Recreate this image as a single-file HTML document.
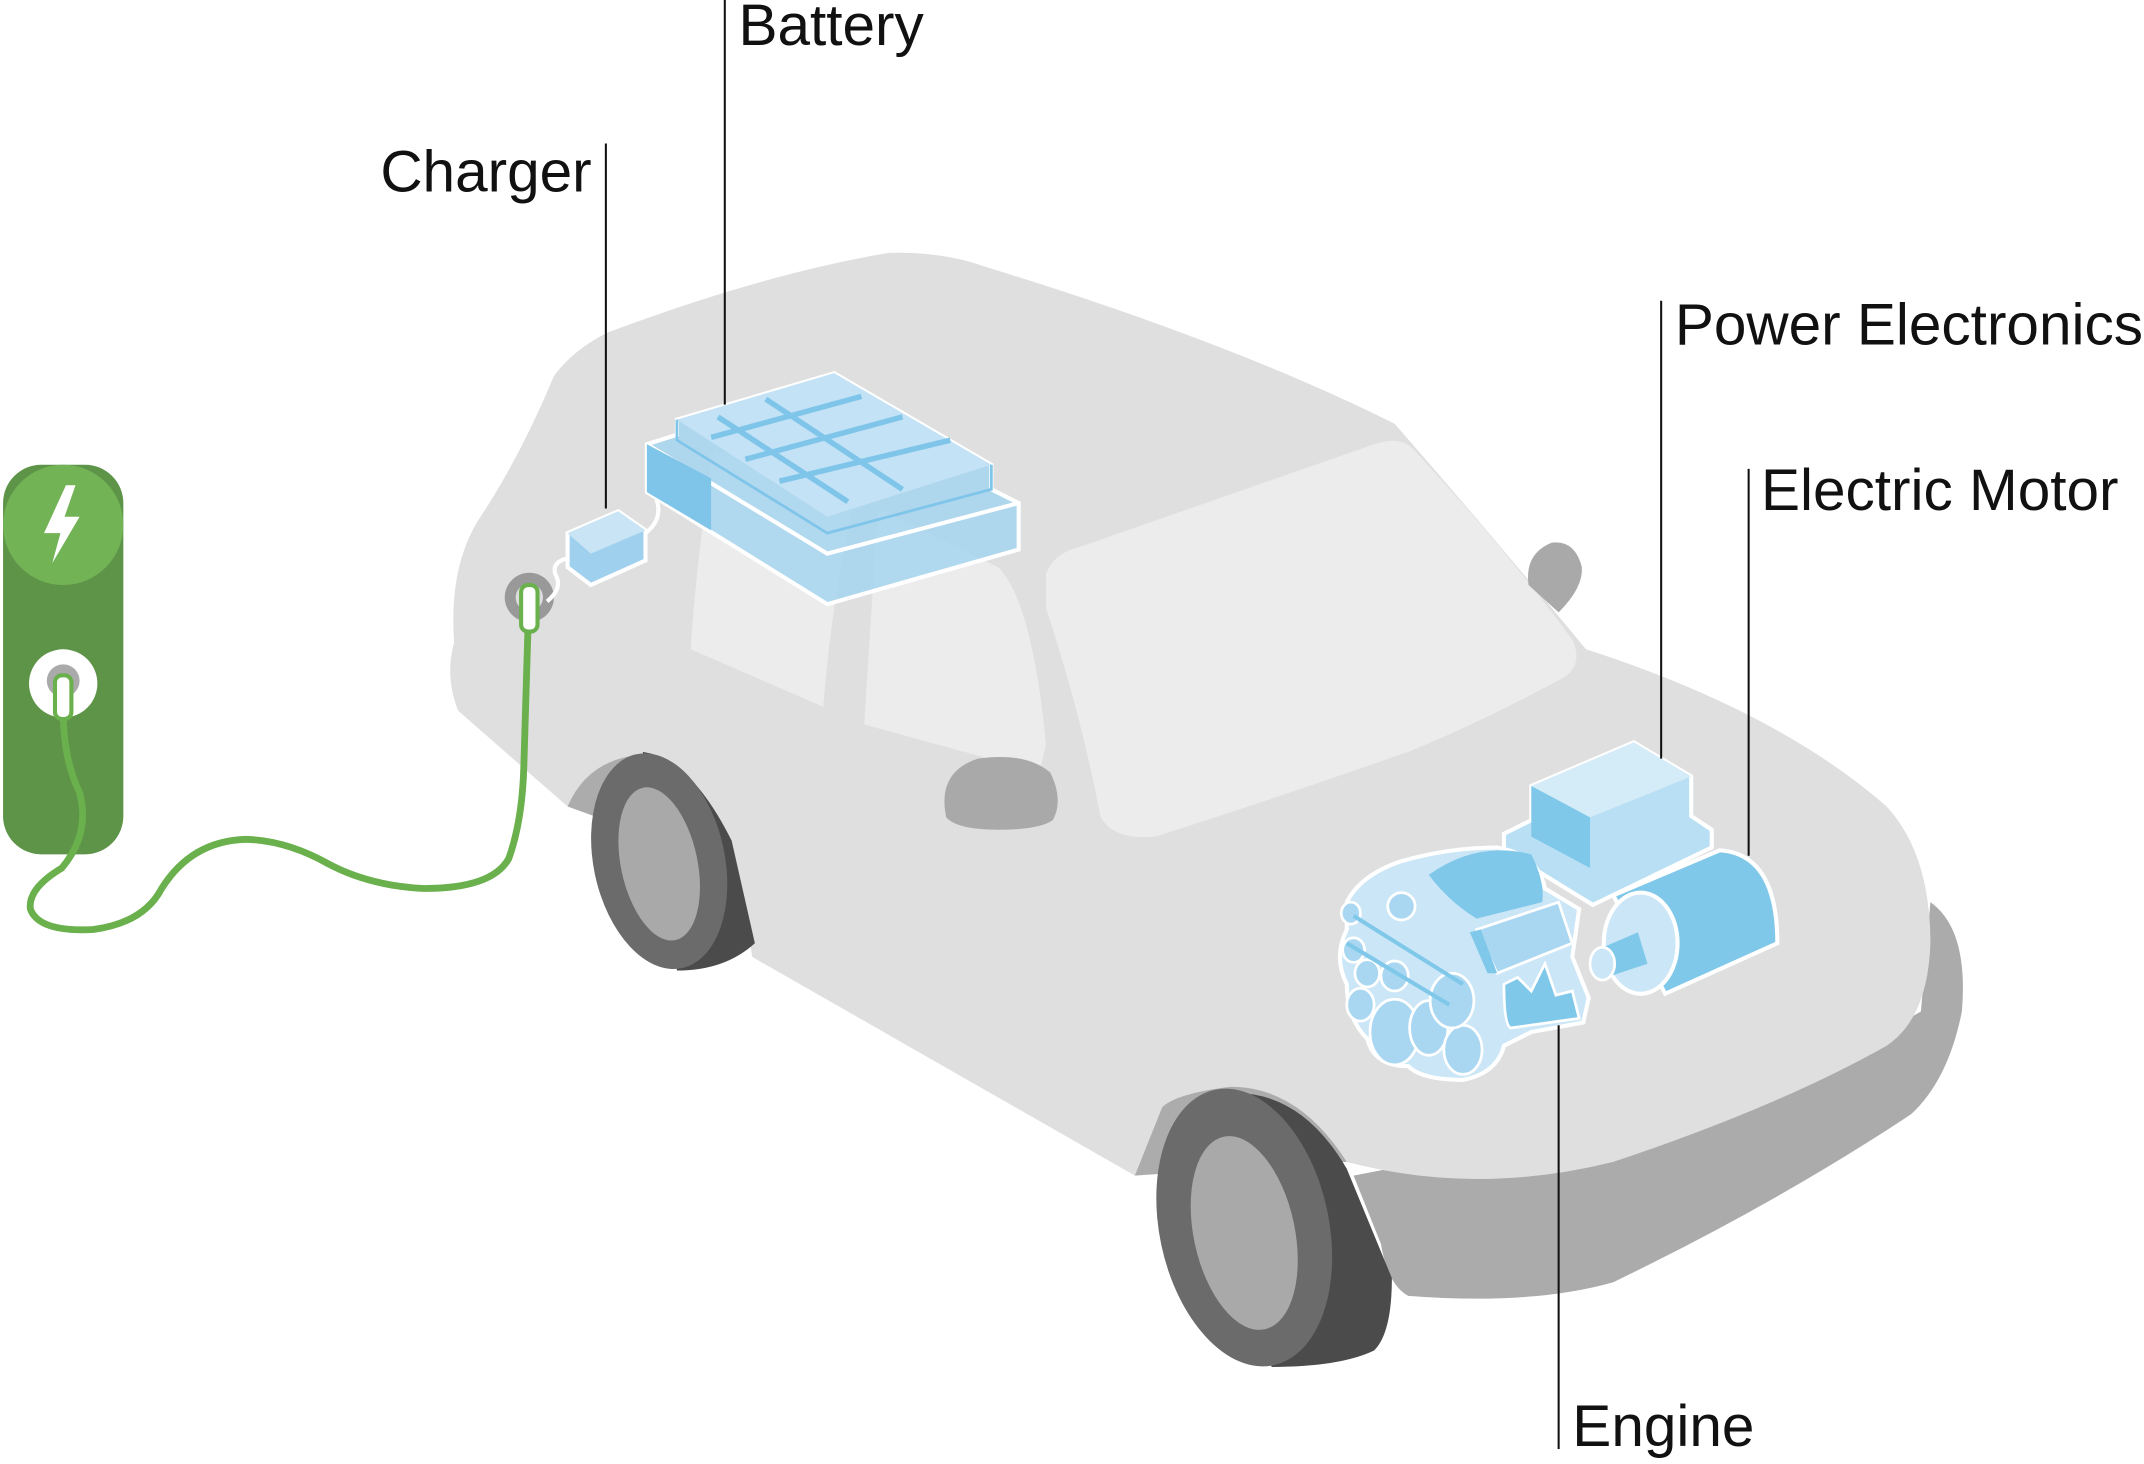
<!DOCTYPE html>
<html><head><meta charset="utf-8"><style>
html,body{margin:0;padding:0;background:#fff;}
svg{display:block;}
text{font-family:"Liberation Sans",sans-serif;font-size:42.8px;fill:#111;}
</style></head><body>
<svg width="2144" height="1464" viewBox="0 0 1568 1071" xmlns="http://www.w3.org/2000/svg">
<path d="M990,860 L1300,800 L1405,740 L1412,660 Q1440,680 1435,740 Q1425,790 1398,815 Q1300,880 1180,938 Q1120,955 1030,948 Q1015,940 1010,910 Z" fill="#ababab"/>
<path d="M415,590 Q412,545 440,538 Q480,535 500,560 L470,610 Z" fill="#acacac"/>
<path d="M830,860 Q830,790 870,783 Q930,775 970,800 L985,850 Z" fill="#acacac"/>
<path d="M335,520 Q325,495 332,470 Q328,415 350,380 Q380,335 405,275 Q420,255 445,243 Q560,200 650,185 Q690,184 720,195 Q900,250 1020,310 Q1090,390 1160,475 Q1300,520 1380,590 Q1412,625 1412,690 Q1410,745 1380,765 Q1300,810 1180,850 Q1080,875 985,850 Q950,795 900,795 Q860,800 850,810 L830,860 L550,700 L545,665 Q510,560 470,552 Q430,555 415,590 Z" fill="#dfdfdf"/>
<path d="M505,475 Q510,400 522,330 L630,345 Q610,420 602,517 Z" fill="#ececec"/>
<path d="M632,530 L642,372 L730,415 Q755,440 765,545 L760,565 Z" fill="#ececec"/>
<path d="M765,420 Q770,405 790,400 L1005,325 Q1025,318 1035,330 Q1100,400 1150,468 Q1158,485 1145,495 Q1080,530 1030,550 Q930,585 845,612 Q815,615 805,598 Q790,520 765,445 Z" fill="#ececec"/>
<path d="M692,598 Q685,565 715,555 Q750,550 768,565 Q778,585 770,600 Q760,607 730,607 Q700,607 692,598 Z" fill="#a9a9a9"/>
<path d="M1118,428 Q1115,405 1135,397 Q1152,395 1157,415 Q1158,430 1140,448 Z" fill="#a9a9a9"/>
<path d="M470,550 Q505,555 535,615 L552,690 Q530,710 495,710 Z" fill="#4a4b4a"/>
<ellipse cx="482" cy="630" rx="48" ry="80" fill="#6b6b6b" transform="rotate(-12 482 630)"/>
<ellipse cx="482" cy="632" rx="28" ry="57" fill="#a9a9a9" transform="rotate(-12 482 632)"/>
<path d="M895,800 Q950,795 985,855 L1018,935 Q1018,975 1005,988 Q980,1000 930,1000 Z" fill="#4a4b4a"/>
<ellipse cx="910" cy="898" rx="62" ry="103" fill="#6b6b6b" transform="rotate(-12 910 898)"/>
<ellipse cx="910" cy="902" rx="37" ry="72" fill="#a9a9a9" transform="rotate(-12 910 902)"/>
<rect x="2" y="340" width="88" height="285" rx="28" fill="#5e9448"/>
<circle cx="46" cy="384" r="44" fill="#72b356"/>
<path d="M48,355 L32,390 L44,390 L38,412 L58,378 L47,378 L55,355 Z" fill="#fff"/>
<circle cx="46" cy="500" r="25" fill="#fff"/>
<circle cx="46" cy="498" r="12" fill="#aaa"/>
<path d="M46,520 Q46,555 58,580 Q66,610 45,635 Q20,650 22,665 Q28,682 68,680 Q105,675 118,650 Q140,615 180,614 Q210,615 240,632 Q270,648 310,650 Q360,650 372,628 Q382,600 383,560 L386,460" fill="none" stroke="#6ab04c" stroke-width="5"/>
<rect x="40" y="494" width="12" height="32" rx="5" fill="#fff" stroke="#6ab04c" stroke-width="3"/>
<circle cx="387" cy="437" r="18" fill="#999"/>
<circle cx="387" cy="437" r="10" fill="#ddd"/>
<rect x="381" y="428" width="12" height="34" rx="5" fill="#fff" stroke="#6ab04c" stroke-width="3"/>
<path d="M400,440 Q412,430 406,420 Q403,410 418,408" fill="none" stroke="#fff" stroke-width="3"/>
<path d="M415,390 L452,374 L472,388 L472,410 L432,428 L415,415 Z" fill="#9fd0ee" stroke="#fff" stroke-width="3"/>
<path d="M415,390 L452,374 L472,388 L432,405 Z" fill="#c8e4f5"/>
<path d="M472,390 Q485,380 480,365 Q485,352 500,355" fill="none" stroke="#fff" stroke-width="3"/>
<path d="M473,325 L495,318 L495,307 L610,273 L725,340 L725,358 L745,368 L745,402 L605,442 L473,360 Z" fill="#a6d5f0" fill-opacity="0.85" stroke="#fff" stroke-width="3"/>
<path d="M495,307 L610,273 L725,340 L605,378 Z" fill="#c3e2f6"/>
<path d="M473,325 L605,405 L745,368" fill="none" stroke="#fff" stroke-width="3"/>
<path d="M495,307 L495,322 L605,390 L725,358 L725,340" fill="none" stroke="#7fc5ea" stroke-width="2"/>
<path d="M520,320 L630,290 M545,336 L660,305 M570,352 L695,322 M560,292 L660,358 M525,305 L620,367" stroke="#7fc5ea" stroke-width="4" fill="none"/>
<path d="M473,325 L473,360 L520,388 L520,350 Z" fill="#7fc5ea"/>
<path d="M1100,610 L1120,600 L1120,575 L1195,543 L1237,568 L1237,597 L1252,607 L1252,620 L1165,662 L1100,622 Z" fill="#b9dff4" stroke="#fff" stroke-width="3"/>
<path d="M1120,575 L1195,543 L1237,568 L1163,598 Z" fill="#d4ebf8"/>
<path d="M1120,575 L1163,598 L1163,635 L1120,612 Z" fill="#80c8ea"/>
<path d="M1180,655 L1258,622 Q1300,625 1300,690 L1218,727 Z" fill="#80c8ea" stroke="#fff" stroke-width="3"/>
<ellipse cx="1200" cy="690" rx="27" ry="37" fill="#cbe6f6" stroke="#fff" stroke-width="3"/>
<path d="M1168,695 L1198,682 L1205,705 L1175,715 Z" fill="#80c8ea"/>
<ellipse cx="1172" cy="705" rx="9" ry="12" fill="#cbe6f6" stroke="#fff" stroke-width="2"/>
<path d="M985,660 Q995,640 1025,630 Q1060,620 1095,620 Q1125,625 1130,650 L1155,665 L1150,700 L1162,730 L1158,748 L1120,755 L1100,765 Q1095,785 1070,790 Q1040,790 1030,780 Q1005,780 1000,760 Q985,745 985,720 Q975,700 985,680 Z" fill="#cbe6f6" stroke="#fff" stroke-width="3"/>
<path d="M1045,640 Q1080,615 1120,625 Q1130,645 1128,660 L1080,672 Q1060,660 1045,640 Z" fill="#80c8ea"/>
<path d="M1080,680 L1140,660 L1150,690 L1095,712 Z" fill="#a9d7f1" stroke="#fff" stroke-width="2"/>
<path d="M1075,682 L1088,712 L1095,712 L1083,680 Z" fill="#80c8ea"/>
<path d="M1100,720 Q1100,750 1105,752 L1155,745 L1150,725 L1138,728 L1130,705 L1120,725 L1110,715 Z" fill="#80c8ea" stroke="#fff" stroke-width="2"/>
<g fill="#a9d7f1" stroke="#fff" stroke-width="2">
<ellipse cx="1020" cy="755" rx="18" ry="24"/><ellipse cx="1045" cy="752" rx="14" ry="20"/>
<ellipse cx="1070" cy="768" rx="14" ry="18"/><ellipse cx="1062" cy="732" rx="16" ry="20"/>
<ellipse cx="995" cy="735" rx="10" ry="12"/><ellipse cx="1000" cy="712" rx="9" ry="10"/>
<ellipse cx="990" cy="695" rx="8" ry="9"/><ellipse cx="1020" cy="714" rx="10" ry="11"/>
<ellipse cx="1025" cy="663" rx="10" ry="10"/><ellipse cx="988" cy="668" rx="7" ry="8"/>
</g>
<path d="M990,670 L1070,720 M985,690 L1060,735" stroke="#80c8ea" stroke-width="3" fill="none"/>
<g stroke="#111" stroke-width="1.5">
<line x1="530" y1="0" x2="530" y2="296"/>
<line x1="443" y1="105" x2="443" y2="372"/>
<line x1="1215" y1="220" x2="1215" y2="555"/>
<line x1="1279" y1="343" x2="1279" y2="626"/>
<line x1="1140" y1="750" x2="1140" y2="1060"/>
</g>
<text x="540" y="33">Battery</text>
<text x="278" y="140">Charger</text>
<text x="1225" y="252">Power Electronics</text>
<text x="1288" y="373">Electric Motor</text>
<text x="1150" y="1058">Engine</text>
</svg>
</body></html>
